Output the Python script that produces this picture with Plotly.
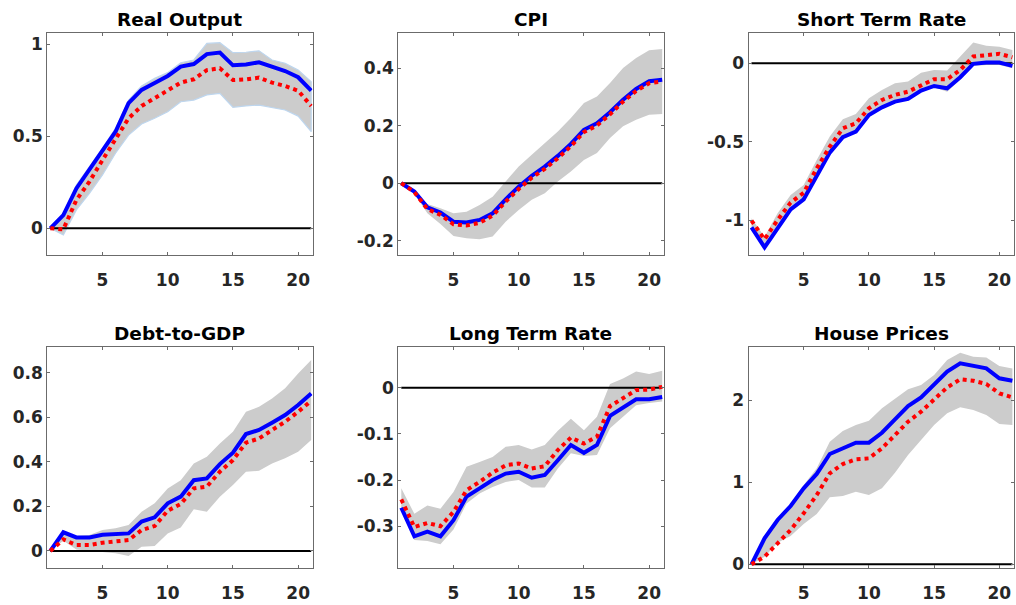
import plotly.graph_objects as go

# ---------------- data ----------------
horizon = list(range(1, 22))
titles = ["Real Output", "CPI", "Short Term Rate", "Debt-to-GDP", "Long Term Rate", "House Prices"]

output_blue = [0, 0.072, 0.217, 0.317, 0.417, 0.525, 0.68, 0.752, 0.79, 0.828, 0.879, 0.893, 0.947, 0.955, 0.886, 0.891, 0.902, 0.879, 0.855, 0.821, 0.748]
output_red = [0, -0.005, 0.154, 0.254, 0.371, 0.489, 0.598, 0.665, 0.707, 0.755, 0.792, 0.81, 0.86, 0.87, 0.806, 0.81, 0.819, 0.792, 0.774, 0.748, 0.665]
output_hi = [0, 0.08, 0.235, 0.335, 0.435, 0.543, 0.697, 0.774, 0.815, 0.846, 0.9, 0.915, 1.005, 1.009, 0.955, 0.957, 0.965, 0.915, 0.897, 0.86, 0.797]
output_lo = [0, -0.036, 0.1, 0.19, 0.29, 0.408, 0.507, 0.567, 0.598, 0.634, 0.688, 0.697, 0.725, 0.734, 0.658, 0.665, 0.67, 0.658, 0.643, 0.61, 0.525]

cpi_blue = [0, -0.029, -0.084, -0.102, -0.134, -0.137, -0.128, -0.105, -0.056, -0.012, 0.026, 0.058, 0.095, 0.137, 0.186, 0.209, 0.247, 0.291, 0.328, 0.355, 0.36]
cpi_red = [0, -0.031, -0.09, -0.11, -0.143, -0.147, -0.138, -0.113, -0.064, -0.02, 0.019, 0.05, 0.087, 0.129, 0.178, 0.201, 0.24, 0.284, 0.321, 0.348, 0.354]
cpi_hi = [0, -0.029, -0.072, -0.087, -0.105, -0.099, -0.076, -0.047, 0.006, 0.058, 0.099, 0.14, 0.18, 0.227, 0.279, 0.302, 0.349, 0.401, 0.436, 0.463, 0.467]
cpi_lo = [0, -0.037, -0.105, -0.142, -0.184, -0.192, -0.195, -0.186, -0.134, -0.093, -0.058, -0.035, 0.006, 0.041, 0.081, 0.105, 0.157, 0.198, 0.221, 0.238, 0.241]

short_blue = [-1.047, -1.174, -1.053, -0.932, -0.868, -0.723, -0.57, -0.472, -0.436, -0.33, -0.281, -0.245, -0.228, -0.174, -0.145, -0.16, -0.089, -0.004, 0.004, 0.004, -0.017]
short_red = [-1.004, -1.123, -1.0, -0.889, -0.826, -0.67, -0.532, -0.415, -0.383, -0.287, -0.234, -0.202, -0.181, -0.138, -0.102, -0.102, -0.043, 0.043, 0.053, 0.06, 0.038]
short_hi = [-0.989, -1.106, -0.957, -0.84, -0.777, -0.617, -0.468, -0.357, -0.323, -0.223, -0.17, -0.128, -0.117, -0.06, -0.043, -0.047, 0.043, 0.132, 0.111, 0.106, 0.085]
short_lo = [-1.064, -1.187, -1.064, -0.94, -0.877, -0.734, -0.579, -0.479, -0.443, -0.336, -0.287, -0.251, -0.234, -0.181, -0.153, -0.181, -0.106, -0.017, -0.011, -0.011, -0.032]

debt_blue = [0, 0.084, 0.061, 0.061, 0.073, 0.076, 0.079, 0.132, 0.151, 0.214, 0.244, 0.318, 0.326, 0.39, 0.441, 0.525, 0.543, 0.576, 0.61, 0.655, 0.707]
debt_red = [0, 0.052, 0.027, 0.027, 0.037, 0.042, 0.049, 0.094, 0.112, 0.181, 0.211, 0.281, 0.289, 0.356, 0.408, 0.486, 0.505, 0.543, 0.58, 0.625, 0.674]
debt_hi = [0, 0.087, 0.067, 0.072, 0.094, 0.102, 0.117, 0.176, 0.214, 0.281, 0.318, 0.393, 0.423, 0.483, 0.535, 0.625, 0.647, 0.685, 0.73, 0.797, 0.857]
debt_lo = [0, 0.046, 0.007, 0.001, -0.003, -0.01, -0.022, 0.019, 0.022, 0.079, 0.106, 0.187, 0.176, 0.244, 0.296, 0.356, 0.36, 0.393, 0.416, 0.446, 0.498]

long_blue = [-0.26, -0.322, -0.312, -0.322, -0.287, -0.236, -0.218, -0.2, -0.186, -0.182, -0.195, -0.189, -0.157, -0.124, -0.141, -0.124, -0.061, -0.043, -0.025, -0.025, -0.02]
long_red = [-0.242, -0.302, -0.293, -0.3, -0.269, -0.222, -0.204, -0.184, -0.168, -0.164, -0.175, -0.17, -0.135, -0.108, -0.121, -0.106, -0.04, -0.023, -0.005, -0.004, 0.002]
long_hi = [-0.218, -0.273, -0.255, -0.262, -0.226, -0.171, -0.161, -0.15, -0.128, -0.124, -0.134, -0.124, -0.093, -0.067, -0.092, -0.063, 0.008, 0.02, 0.035, 0.03, 0.037]
long_lo = [-0.262, -0.33, -0.332, -0.339, -0.307, -0.251, -0.229, -0.215, -0.204, -0.2, -0.216, -0.216, -0.175, -0.142, -0.148, -0.146, -0.088, -0.063, -0.038, -0.033, -0.03]

house_blue = [0, 0.316, 0.54, 0.71, 0.925, 1.1, 1.343, 1.412, 1.481, 1.481, 1.602, 1.765, 1.927, 2.032, 2.183, 2.345, 2.446, 2.418, 2.385, 2.264, 2.235]
house_red = [0, 0.093, 0.256, 0.418, 0.621, 0.844, 1.108, 1.221, 1.278, 1.29, 1.412, 1.574, 1.736, 1.858, 2.0, 2.154, 2.252, 2.235, 2.195, 2.081, 2.032]
house_hi = [0, 0.329, 0.56, 0.734, 0.966, 1.168, 1.493, 1.623, 1.696, 1.748, 1.899, 2.02, 2.13, 2.183, 2.304, 2.487, 2.576, 2.527, 2.519, 2.414, 2.385]
house_lo = [0, 0.093, 0.264, 0.345, 0.491, 0.613, 0.815, 0.832, 0.884, 0.844, 0.925, 1.116, 1.331, 1.513, 1.696, 1.838, 1.911, 1.878, 1.817, 1.708, 1.696]

x_ticks = [5, 10, 15, 20]
y_tickvals = [[0, 0.5, 1], [-0.2, 0, 0.2, 0.4], [-1, -0.5, 0], [0, 0.2, 0.4, 0.6, 0.8], [-0.3, -0.2, -0.1, 0], [0, 1, 2]]
y_ticktext = [["0", "0.5", "1"], ["-0.2", "0", "0.2", "0.4"], ["-1", "-0.5", "0"], ["0", "0.2", "0.4", "0.6", "0.8"], ["-0.3", "-0.2", "-0.1", "0"], ["0", "1", "2"]]
y_ranges = [[-0.145, 1.06], [-0.25, 0.522], [-1.223, 0.191], [-0.075, 0.917], [-0.39, 0.089], [-0.041, 2.649]]

series = [
    (output_blue, output_red, output_lo, output_hi),
    (cpi_blue, cpi_red, cpi_lo, cpi_hi),
    (short_blue, short_red, short_lo, short_hi),
    (debt_blue, debt_red, debt_lo, debt_hi),
    (long_blue, long_red, long_lo, long_hi),
    (house_blue, house_red, house_lo, house_hi),
]

# ---------------- layout geometry ----------------
W, H = 1016, 605
x_dom_px = [(47.3, 312.5), (398.3, 663.5), (748.5, 1013.7)]
y_dom_px = [(33.3, 255.0), (346.7, 567.7)]

fig = go.Figure()
FONT = "DejaVu Sans, Liberation Sans, Arial, sans-serif"
AXIS_COLOR = "#6b6b6b"

for i, (blue, red, lo, hi) in enumerate(series):
    n = i + 1
    xa = "x" if n == 1 else f"x{n}"
    ya = "y" if n == 1 else f"y{n}"
    band_line = dict(color="rgb(190,214,238)", width=1.2) if i == 0 else dict(width=0)
    fig.add_trace(go.Scatter(
        x=horizon + horizon[::-1], y=hi + lo[::-1], fill="toself",
        fillcolor="rgb(204,204,204)", line=band_line, mode="lines",
        xaxis=xa, yaxis=ya, showlegend=False, hoverinfo="skip"))
    fig.add_trace(go.Scatter(
        x=[horizon[0], horizon[-1]], y=[0, 0], mode="lines",
        line=dict(color="black", width=2), xaxis=xa, yaxis=ya, showlegend=False))
    fig.add_trace(go.Scatter(
        x=horizon, y=blue, mode="lines", line=dict(color="#0000FF", width=4),
        xaxis=xa, yaxis=ya, showlegend=False))
    fig.add_trace(go.Scatter(
        x=horizon, y=red, mode="lines", line=dict(color="#FF0000", width=4, dash="4px,4px"),
        xaxis=xa, yaxis=ya, showlegend=False))

    r, c = divmod(i, 3)
    x0, x1 = x_dom_px[c]
    y0, y1 = y_dom_px[r]
    xdom = [x0 / W, min(x1 / W, 1.0)]
    ydom = [1 - y1 / H, 1 - y0 / H]
    axis_common = dict(
        showgrid=False, zeroline=False, showline=True, linecolor=AXIS_COLOR, linewidth=1,
        mirror="ticks", ticks="inside", ticklen=3, tickcolor=AXIS_COLOR, tickwidth=1,
        automargin=False,
        tickfont=dict(family=FONT, size=17, color="#262626", weight="bold"),
    )
    xkey = "xaxis" if n == 1 else f"xaxis{n}"
    ykey = "yaxis" if n == 1 else f"yaxis{n}"
    fig.update_layout(**{
        xkey: dict(axis_common, domain=xdom, range=[0.77, 21.1], tickvals=x_ticks,
                   ticktext=[str(v) for v in x_ticks], anchor=ya, ticklabelstandoff=10),
        ykey: dict(axis_common, domain=ydom, range=y_ranges[i], tickvals=y_tickvals[i],
                   ticktext=y_ticktext[i], anchor=xa, ticklabelstandoff=0),
    })
    fig.add_annotation(
        text=titles[i], xref="paper", yref="paper", x=(xdom[0] + xdom[1]) / 2, y=ydom[1],
        xanchor="center", yanchor="bottom", yshift=1, showarrow=False,
        font=dict(family=FONT, size=18.5, color="black", weight="bold"))

fig.update_layout(
    width=W, height=H, margin=dict(l=0, r=0, t=0, b=0, pad=0, autoexpand=False),
    paper_bgcolor="white", plot_bgcolor="white", showlegend=False,
)

# remove the default page margin so the figure fills the 1016x605 window exactly
fig.write_html(
    "out.html",
    config={"displayModeBar": False},
    post_script="document.body.style.margin='0';document.body.style.overflow='hidden';",
)
